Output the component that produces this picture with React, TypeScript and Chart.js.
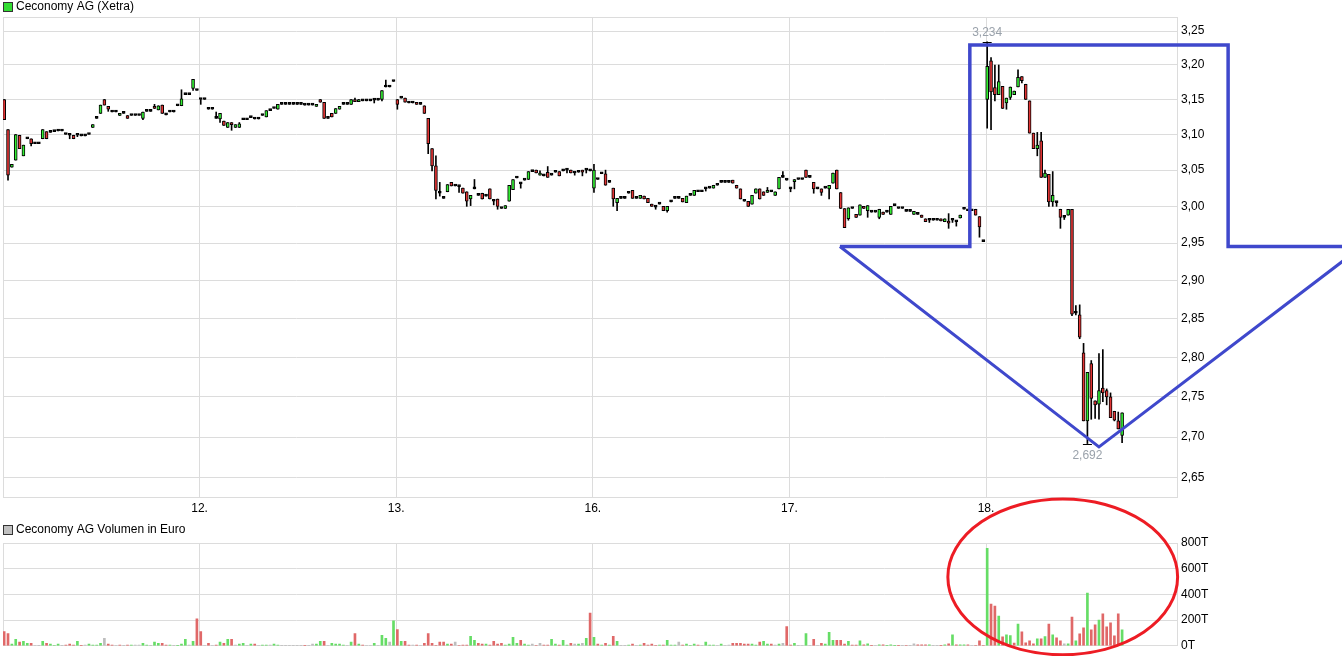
import React, { useEffect, useRef } from 'react';
import { Chart, registerables } from 'chart.js';

Chart.register(...registerables);

// ---------- DATA ----------
type OHLC = [number, number, number, number]; // open, high, low, close
const f = (v: number): OHLC => [v, v, v, v]; // flat 10-minute candle (open = high = low = close)

const DAY_LABELS = ['12.', '13.', '16.', '17.', '18.'];
const SLOTS_PER_DAY = 51;
const PRICE_TICKS = [2.65, 2.7, 2.75, 2.8, 2.85, 2.9, 2.95, 3.0, 3.05, 3.1, 3.15, 3.2, 3.25];
const VOLUME_TICKS = [0, 200, 400, 600, 800];

const day11: OHLC[] = [
  [3.150, 3.150, 3.121, 3.121], [3.107, 3.107, 3.036, 3.043], [3.054, 3.058, 3.054, 3.058],
  [3.064, 3.100, 3.064, 3.100], [3.099, 3.099, 3.080, 3.080], [3.070, 3.085, 3.070, 3.085],
  f(3.094), [3.094, 3.094, 3.084, 3.087], f(3.087), f(3.087),
  [3.094, 3.107, 3.094, 3.107], [3.104, 3.104, 3.094, 3.094],
  f(3.103), f(3.104), f(3.105), f(3.105), f(3.100),
  [3.099, 3.099, 3.094, 3.099], [3.099, 3.099, 3.094, 3.094], [3.099, 3.099, 3.097, 3.099],
  f(3.098), f(3.098), f(3.100),
  [3.110, 3.114, 3.110, 3.114], f(3.123), [3.130, 3.142, 3.130, 3.142], [3.150, 3.150, 3.142, 3.142],
  [3.140, 3.140, 3.133, 3.136], f(3.132), f(3.132), [3.127, 3.130, 3.127, 3.130], f(3.130),
  [3.127, 3.127, 3.123, 3.123], f(3.127), f(3.127), f(3.127),
  [3.123, 3.132, 3.121, 3.132], f(3.133), f(3.133),
  [3.140, 3.143, 3.137, 3.137], [3.135, 3.141, 3.135, 3.141], [3.142, 3.142, 3.130, 3.130],
  f(3.128), f(3.132), f(3.132), f(3.141),
  [3.141, 3.164, 3.141, 3.151], f(3.157), f(3.157), [3.166, 3.179, 3.163, 3.179], f(3.163),
];

const day12: OHLC[] = [
  [3.150, 3.150, 3.143, 3.150], f(3.150), f(3.136), f(3.136),
  [3.123, 3.132, 3.123, 3.123], [3.122, 3.130, 3.117, 3.130], [3.119, 3.119, 3.113, 3.113],
  [3.110, 3.117, 3.110, 3.117], [3.117, 3.117, 3.106, 3.114], [3.110, 3.114, 3.110, 3.114],
  [3.110, 3.117, 3.110, 3.115],
  f(3.121), f(3.121), f(3.124), f(3.122), f(3.122), f(3.127),
  [3.125, 3.134, 3.125, 3.134], f(3.134), f(3.137), [3.136, 3.143, 3.136, 3.143],
  f(3.143), f(3.143), f(3.143), f(3.143), f(3.143), f(3.143), f(3.142), f(3.142), f(3.142),
  [3.140, 3.143, 3.140, 3.143], [3.150, 3.150, 3.146, 3.146], [3.146, 3.146, 3.123, 3.123], f(3.123),
  [3.130, 3.130, 3.125, 3.125], [3.130, 3.137, 3.130, 3.137], [3.136, 3.140, 3.136, 3.140],
  f(3.143), f(3.143), [3.143, 3.150, 3.143, 3.150], [3.150, 3.152, 3.147, 3.147],
  [3.147, 3.150, 3.147, 3.150], f(3.148), f(3.148), f(3.148), [3.149, 3.149, 3.145, 3.149], f(3.149),
  [3.150, 3.163, 3.148, 3.163], [3.168, 3.178, 3.168, 3.168], f(3.168), f(3.176),
];

const day13: OHLC[] = [
  [3.150, 3.150, 3.136, 3.143], f(3.152), [3.152, 3.152, 3.146, 3.146], f(3.145), f(3.145),
  [3.145, 3.145, 3.143, 3.143], f(3.143), [3.141, 3.141, 3.130, 3.130],
  [3.123, 3.123, 3.073, 3.087], [3.080, 3.080, 3.049, 3.056], [3.056, 3.070, 3.010, 3.022],
  [3.018, 3.033, 3.014, 3.018], f(3.011), [3.020, 3.030, 3.020, 3.030], [3.033, 3.033, 3.028, 3.028],
  f(3.028), [3.027, 3.027, 3.019, 3.027], [3.025, 3.025, 3.018, 3.018], [3.020, 3.020, 3.000, 3.007],
  [3.010, 3.015, 3.001, 3.015], [3.024, 3.037, 3.024, 3.024], f(3.015), [3.018, 3.018, 3.010, 3.010],
  f(3.014), [3.024, 3.024, 3.010, 3.010], [3.007, 3.007, 3.002, 3.007], [3.010, 3.010, 2.996, 3.000],
  f(2.997), [2.997, 3.001, 2.997, 3.001], [3.007, 3.029, 3.007, 3.029], [3.023, 3.037, 3.023, 3.037],
  f(3.039), [3.031, 3.031, 3.025, 3.031], f(3.036), [3.037, 3.048, 3.037, 3.048], f(3.048),
  [3.050, 3.050, 3.046, 3.046], [3.043, 3.049, 3.043, 3.046], f(3.042), [3.047, 3.055, 3.040, 3.040],
  f(3.043), f(3.047), [3.048, 3.048, 3.042, 3.042], f(3.049), [3.050, 3.050, 3.046, 3.050],
  [3.050, 3.050, 3.046, 3.046], [3.046, 3.046, 3.043, 3.046], f(3.047), [3.050, 3.050, 3.042, 3.047],
  [3.050, 3.050, 3.046, 3.050], f(3.049),
];

const day16: OHLC[] = [
  [3.025, 3.058, 3.019, 3.050], f(3.037), f(3.045), [3.045, 3.050, 3.029, 3.029], f(3.033),
  [3.025, 3.025, 3.000, 3.010], [3.005, 3.011, 2.994, 3.011], f(3.011), f(3.011), f(3.018),
  [3.022, 3.022, 3.011, 3.011], f(3.011), [3.011, 3.015, 3.011, 3.015], [3.014, 3.014, 3.010, 3.010],
  [3.011, 3.011, 3.005, 3.005], [3.003, 3.003, 3.000, 3.000], [2.999, 2.999, 2.996, 2.999], f(3.003),
  [3.000, 3.000, 2.994, 2.994], [2.994, 3.000, 2.992, 3.000], f(3.006), f(3.011), f(3.011),
  [3.011, 3.011, 3.006, 3.006], [3.005, 3.014, 3.005, 3.014], f(3.015), [3.015, 3.022, 3.015, 3.022],
  f(3.020), f(3.020), [3.024, 3.024, 3.021, 3.024], f(3.025), [3.025, 3.029, 3.025, 3.029], f(3.029),
  f(3.033), f(3.033), f(3.033), [3.036, 3.036, 3.032, 3.032], [3.029, 3.029, 3.025, 3.025],
  [3.024, 3.024, 3.010, 3.010], f(3.007), [3.007, 3.007, 3.000, 3.000], [3.003, 3.015, 3.003, 3.015],
  [3.018, 3.024, 3.018, 3.024], [3.024, 3.024, 3.010, 3.010], [3.020, 3.020, 3.015, 3.015],
  [3.019, 3.026, 3.019, 3.022], f(3.020), [3.015, 3.020, 3.015, 3.020], [3.024, 3.040, 3.024, 3.040],
  [3.040, 3.048, 3.040, 3.040], f(3.036),
];

const day17: OHLC[] = [
  [3.024, 3.024, 3.020, 3.024], [3.034, 3.037, 3.024, 3.037], f(3.037), f(3.037),
  [3.050, 3.050, 3.040, 3.040], f(3.040), [3.033, 3.033, 3.018, 3.024], f(3.024),
  [3.024, 3.024, 3.015, 3.019], f(3.025), [3.024, 3.029, 3.010, 3.029], [3.032, 3.046, 3.032, 3.046],
  [3.050, 3.050, 3.024, 3.024], [3.019, 3.019, 2.997, 2.997], [2.997, 2.997, 2.971, 2.971],
  [2.983, 2.998, 2.981, 2.998], f(2.997), [2.989, 2.989, 2.985, 2.985], [2.988, 3.002, 2.988, 3.002],
  [3.000, 3.000, 2.997, 2.997], [2.994, 3.001, 2.985, 3.001], f(2.992), f(2.992),
  [2.985, 2.996, 2.983, 2.996], [2.992, 2.992, 2.989, 2.989], f(2.992), [2.989, 3.000, 2.989, 3.000],
  f(3.001), f(2.997), f(2.997), f(2.993), f(2.993), [2.989, 2.993, 2.989, 2.993], f(2.989),
  [2.988, 2.988, 2.985, 2.985], [2.983, 2.983, 2.979, 2.979], [2.981, 2.981, 2.978, 2.981],
  f(2.981), f(2.981), [2.983, 2.983, 2.980, 2.980], [2.979, 2.983, 2.979, 2.983],
  [2.980, 2.990, 2.970, 2.977], [2.981, 2.981, 2.978, 2.981], [2.979, 2.979, 2.973, 2.979],
  [2.984, 2.988, 2.984, 2.988], f(2.996), f(2.994), f(2.994), [2.996, 2.996, 2.988, 2.988],
  [2.986, 2.986, 2.958, 2.972], f(2.952),
];

const day18: OHLC[] = [
  [3.150, 3.234, 3.109, 3.198], [3.206, 3.211, 3.107, 3.161], [3.167, 3.200, 3.148, 3.157],
  [3.157, 3.200, 3.157, 3.176], [3.169, 3.169, 3.137, 3.137], [3.145, 3.152, 3.136, 3.152],
  [3.153, 3.168, 3.150, 3.168], [3.157, 3.162, 3.157, 3.162], [3.168, 3.193, 3.168, 3.182],
  [3.183, 3.183, 3.174, 3.177], [3.172, 3.172, 3.150, 3.150], [3.148, 3.148, 3.102, 3.102],
  [3.102, 3.102, 3.080, 3.080], [3.080, 3.103, 3.070, 3.085], [3.091, 3.103, 3.040, 3.040],
  [3.040, 3.050, 3.040, 3.046], [3.044, 3.044, 3.000, 3.006], [3.006, 3.048, 3.000, 3.015],
  [3.005, 3.005, 3.000, 3.005], [2.996, 2.996, 2.970, 2.985], [2.985, 2.985, 2.982, 2.985],
  [2.988, 2.996, 2.988, 2.996], [2.996, 2.996, 2.854, 2.856], [2.857, 2.867, 2.855, 2.857],
  [2.855, 2.868, 2.824, 2.826], [2.806, 2.818, 2.720, 2.720], [2.720, 2.781, 2.692, 2.781],
  [2.792, 2.796, 2.722, 2.748], [2.745, 2.745, 2.723, 2.740], [2.741, 2.805, 2.722, 2.758],
  [2.761, 2.810, 2.744, 2.755], [2.758, 2.760, 2.740, 2.750], [2.750, 2.755, 2.724, 2.724],
  [2.732, 2.732, 2.720, 2.721], [2.720, 2.731, 2.710, 2.710], [2.702, 2.730, 2.693, 2.730],
];

// volume in thousand euro ("T")
const vol11 = [111, 96, 13, 51, 28, 35, 20, 20, 2, 1, 35, 20, 13, 2, 13, 1, 5, 13, 5, 35, 1, 5, 13, 5, 5, 20, 58, 13, 5, 2, 5, 1, 5, 5, 5, 5, 20, 5, 1, 28, 20, 20, 5, 5, 1, 1, 13, 51, 5, 35, 210];
const vol12 = [111, 2, 20, 2, 5, 28, 20, 51, 51, 5, 13, 20, 2, 13, 13, 2, 5, 5, 5, 13, 5, 1, 1, 1, 1, 1, 1, 1, 1, 13, 13, 35, 35, 2, 20, 13, 13, 5, 2, 28, 96, 13, 5, 2, 2, 20, 2, 81, 58, 28, 195];
const vol13 = [127, 35, 35, 5, 5, 5, 2, 20, 96, 20, 2, 28, 28, 13, 13, 28, 2, 5, 5, 73, 43, 20, 13, 13, 5, 35, 13, 20, 5, 13, 66, 20, 43, 13, 5, 13, 2, 20, 5, 5, 51, 13, 5, 43, 5, 20, 13, 13, 20, 58, 255];
const vol16 = [66, 13, 5, 20, 5, 73, 35, 1, 1, 5, 13, 2, 5, 20, 5, 13, 2, 5, 5, 43, 5, 5, 28, 5, 13, 2, 13, 5, 2, 28, 5, 5, 2, 13, 2, 5, 20, 20, 20, 13, 13, 13, 5, 28, 35, 13, 13, 5, 13, 20, 149];
const vol17 = [5, 20, 1, 2, 96, 2, 51, 2, 20, 13, 104, 43, 43, 43, 13, 35, 5, 5, 39, 8, 15, 1, 2, 8, 8, 1, 8, 1, 1, 1, 2, 1, 15, 8, 8, 8, 8, 1, 1, 1, 8, 15, 85, 8, 8, 8, 8, 2, 2, 39, 2];
const vol18 = [758, 325, 310, 232, 70, 85, 80, 21, 170, 108, 23, 39, 15, 54, 54, 72, 170, 85, 62, 39, 15, 15, 224, 39, 93, 139, 410, 124, 163, 201, 248, 147, 178, 77, 248, 124];

const DAYS = [day11, day12, day13, day16, day17, day18];
const VOLUMES = [vol11, vol12, vol13, vol16, vol17, vol18];

// annotation drawn over the chart, in data units (slot index, price / volume)
const ARROW_BODY: [number, number][] = [[217.1, 2.9454], [250.8, 2.9454], [250.8, 3.2292], [317.8, 3.2292], [317.8, 2.9454], [348, 2.9454]];
const ARROW_HEAD: [number, number][] = [[348, 2.9276], [284.3, 2.6878], [217.1, 2.9454]];
const VOLUME_ELLIPSE = { x: 274.9, y: 536, rx: 29.8, ry: 606 };

// ---------- STYLE ----------
const FONT = '"Liberation Sans", Arial, sans-serif';
const GRID = '#dcdcdc';
const X_MIN = 0;
const X_MAX = 304.8;
const PRICE_MIN = 2.6259;
const PRICE_MAX = 3.2709;
const CANDLE_OFFSET = 0.3;

const fmt = (v: number, d: number) => v.toFixed(d).replace('.', ',');

export default function App() {
  const priceRef = useRef<HTMLCanvasElement>(null);
  const volRef = useRef<HTMLCanvasElement>(null);

  useEffect(() => {
    const candles = DAYS.flatMap((day, d) =>
      day.map((c, j) => ({ x: d * SLOTS_PER_DAY + j + CANDLE_OFFSET, o: c[0], h: c[1], l: c[2], c: c[3] }))
    );
    const vols = VOLUMES.flatMap((day, d) => day.map((v, j) => ({ x: d * SLOTS_PER_DAY + j + CANDLE_OFFSET, y: v })));
    const volColors = candles.map((c, i) => {
      const prev = i > 0 ? candles[i - 1].c : c.o;
      return c.c > prev ? '#66dd66' : c.c < prev ? '#e06868' : '#bdbdbd';
    });
    const bodyColors = candles.map((c) => (c.c > c.o ? '#33ee33' : c.c < c.o ? '#e23535' : '#000'));

    const dayTicks = (s: any) => {
      s.ticks = DAY_LABELS.map((_, i) => ({ value: (i + 1) * SLOTS_PER_DAY }));
    };
    const xScale = (showLabels: boolean, height: number) => ({
      type: 'linear',
      min: X_MIN,
      max: X_MAX,
      bounds: 'data',
      offset: false,
      afterBuildTicks: dayTicks,
      afterFit: (s: any) => { s.height = height; },
      grid: { color: GRID, drawTicks: false, offset: false },
      border: { display: false },
      ticks: {
        display: showLabels,
        autoSkip: false,
        maxRotation: 0,
        padding: 3,
        color: '#000',
        font: { family: FONT, size: 12 },
        callback: (v: any) => DAY_LABELS[Math.round(Number(v) / SLOTS_PER_DAY) - 1] ?? '',
      },
    });

    const borderRect = (chart: any) => {
      const { ctx, chartArea: a } = chart;
      ctx.save();
      ctx.strokeStyle = GRID;
      ctx.lineWidth = 1;
      ctx.strokeRect(Math.round(a.left) + 0.5, Math.round(a.top) + 0.5, Math.round(a.right - a.left) - 1, Math.round(a.bottom - a.top) - 1);
      ctx.restore();
    };
    const heading = (ctx: any, y: number, color: string, text: string) => {
      ctx.save();
      ctx.fillStyle = color;
      ctx.fillRect(4, y - 4, 8, 8);
      ctx.strokeStyle = '#333';
      ctx.lineWidth = 1;
      ctx.strokeRect(3.5, y - 4.5, 9, 9);
      ctx.fillStyle = '#000';
      ctx.font = `12px ${FONT}`;
      ctx.textAlign = 'left';
      ctx.textBaseline = 'middle';
      ctx.fillText(text, 16, y);
      ctx.restore();
    };

    const pricePlugin = {
      id: 'priceOverlay',
      beforeDatasetsDraw: borderRect,
      afterDatasetsDraw(chart: any) {
        const { ctx } = chart;
        const xs = chart.scales.x;
        const ys = chart.scales.y;
        let hi = 0;
        let lo = 0;
        candles.forEach((c, i) => {
          if (c.h > candles[hi].h) hi = i;
          if (c.l < candles[lo].l) lo = i;
        });
        ctx.save();
        ctx.strokeStyle = '#000';
        ctx.lineWidth = 1;
        ctx.font = `12px ${FONT}`;
        ctx.textAlign = 'center';
        ctx.textBaseline = 'middle';
        ctx.fillStyle = '#9aa2ab';
        const hx = xs.getPixelForValue(candles[hi].x);
        const hy = Math.round(ys.getPixelForValue(candles[hi].h)) + 0.5;
        ctx.beginPath();
        ctx.moveTo(hx - 4.5, hy);
        ctx.lineTo(hx + 4.5, hy);
        ctx.stroke();
        ctx.fillText(fmt(candles[hi].h, 3), hx, hy - 10);
        const lx = xs.getPixelForValue(candles[lo].x);
        const ly = Math.round(ys.getPixelForValue(candles[lo].l)) + 0.5;
        ctx.beginPath();
        ctx.moveTo(lx - 4.5, ly);
        ctx.lineTo(lx + 4.5, ly);
        ctx.stroke();
        ctx.fillText(fmt(candles[lo].l, 3), lx, ly + 11);
        ctx.restore();
      },
      afterDraw(chart: any) {
        const { ctx } = chart;
        heading(ctx, 7, '#33dd33', 'Ceconomy AG (Xetra)');
        const xs = chart.scales.x;
        const ys = chart.scales.y;
        const path = (pts: [number, number][]) => {
          ctx.beginPath();
          pts.forEach(([x, y], i) => {
            const px = xs.getPixelForValue(x);
            const py = ys.getPixelForValue(y);
            if (i === 0) ctx.moveTo(px, py);
            else ctx.lineTo(px, py);
          });
          ctx.stroke();
        };
        ctx.save();
        ctx.strokeStyle = '#3f48cc';
        ctx.lineWidth = 3.5;
        ctx.lineJoin = 'miter';
        path(ARROW_BODY);
        ctx.lineWidth = 3;
        path(ARROW_HEAD);
        ctx.restore();
      },
    };

    const volPlugin = {
      id: 'volOverlay',
      beforeDatasetsDraw: borderRect,
      afterDraw(chart: any) {
        const { ctx } = chart;
        heading(ctx, 40, '#c0c0c0', 'Ceconomy AG Volumen in Euro');
        const xs = chart.scales.x;
        const ys = chart.scales.y;
        const cx = xs.getPixelForValue(VOLUME_ELLIPSE.x);
        const rx = xs.getPixelForValue(VOLUME_ELLIPSE.x + VOLUME_ELLIPSE.rx) - cx;
        const cy = ys.getPixelForValue(VOLUME_ELLIPSE.y);
        const ry = cy - ys.getPixelForValue(VOLUME_ELLIPSE.y + VOLUME_ELLIPSE.ry);
        ctx.save();
        ctx.strokeStyle = '#ed1c24';
        ctx.lineWidth = 3;
        ctx.beginPath();
        ctx.ellipse(cx, cy, rx, ry, 0, 0, Math.PI * 2);
        ctx.stroke();
        ctx.restore();
      },
    };

    const priceChart = new Chart(priceRef.current as HTMLCanvasElement, {
      type: 'bar',
      data: {
        datasets: [
          {
            label: 'body',
            data: candles.map((c) => ({ x: c.x, y: [c.o, c.c] })) as any,
            backgroundColor: bodyColors,
            borderColor: '#000',
            borderWidth: 1,
            borderSkipped: false,
            barThickness: 3,
            minBarLength: 2,
            grouped: false,
          },
          {
            label: 'wick',
            data: candles.map((c) => ({ x: c.x, y: [c.l, c.h] })) as any,
            backgroundColor: '#000',
            borderWidth: 0,
            barThickness: 1,
            grouped: false,
          },
        ],
      },
      options: {
        responsive: false,
        animation: false,
        events: [],
        layout: { padding: { left: 3, top: 17, right: 0, bottom: 0 } },
        plugins: { legend: { display: false }, tooltip: { enabled: false } },
        scales: {
          x: xScale(true, 22) as any,
          y: {
            type: 'logarithmic',
            position: 'right',
            min: PRICE_MIN,
            max: PRICE_MAX,
            bounds: 'data',
            beginAtZero: false,
            afterBuildTicks: (s: any) => { s.ticks = PRICE_TICKS.map((v) => ({ value: v })); },
            afterFit: (s: any) => { s.width = 164; },
            grid: { color: GRID, drawTicks: false },
            border: { display: false },
            ticks: {
              padding: 3,
              color: '#000',
              font: { family: FONT, size: 12 },
              callback: (v: any) => fmt(Number(v), 2),
            },
          } as any,
        },
      },
      plugins: [pricePlugin],
    });

    const volChart = new Chart(volRef.current as HTMLCanvasElement, {
      type: 'bar',
      data: {
        datasets: [
          {
            label: 'Volumen',
            data: vols as any,
            backgroundColor: volColors,
            borderWidth: 0,
            barThickness: 2,
            grouped: false,
          },
        ],
      },
      options: {
        responsive: false,
        animation: false,
        events: [],
        layout: { padding: { left: 3, top: 53, right: 0, bottom: 0 } },
        plugins: { legend: { display: false }, tooltip: { enabled: false } },
        scales: {
          x: xScale(false, 10) as any,
          y: {
            type: 'linear',
            position: 'right',
            min: 0,
            max: 800,
            bounds: 'data',
            afterBuildTicks: (s: any) => { s.ticks = VOLUME_TICKS.map((v) => ({ value: v })); },
            afterFit: (s: any) => { s.width = 164; },
            grid: { color: GRID, drawTicks: false },
            border: { display: false },
            ticks: {
              padding: 3,
              color: '#000',
              font: { family: FONT, size: 12 },
              callback: (v: any) => `${v}T`,
            },
          } as any,
        },
      },
      plugins: [volPlugin],
    });

    return () => {
      priceChart.destroy();
      volChart.destroy();
    };
  }, []);

  return (
    <div style={{ position: 'absolute', left: 0, top: 0, width: 1342, height: 656, overflow: 'hidden', background: '#fff' }}>
      <canvas ref={priceRef} width={1342} height={520} style={{ position: 'absolute', left: 0, top: 0 }} />
      <canvas ref={volRef} width={1342} height={166} style={{ position: 'absolute', left: 0, top: 490 }} />
    </div>
  );
}
